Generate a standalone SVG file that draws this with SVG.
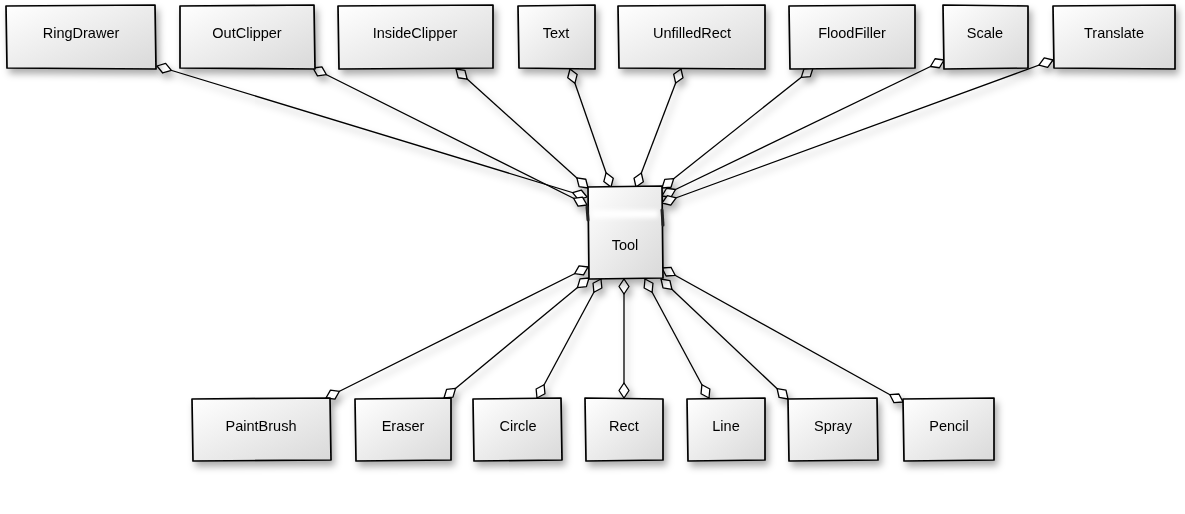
<svg xmlns="http://www.w3.org/2000/svg" width="1185" height="514" viewBox="0 0 1185 514">
<defs>
<linearGradient id="g" x1="0" y1="0" x2="1" y2="1">
<stop offset="0" stop-color="#ffffff"/>
<stop offset="1" stop-color="#d9d9d9"/>
</linearGradient>
<filter id="sh" x="-20%" y="-20%" width="150%" height="150%">
<feDropShadow dx="3" dy="5" stdDeviation="3.5" flood-color="#000" flood-opacity="0.32"/>
</filter>
<filter id="bl" x="-20%" y="-50%" width="140%" height="200%">
<feGaussianBlur stdDeviation="2"/>
</filter>
<marker id="d" markerUnits="userSpaceOnUse" markerWidth="20" markerHeight="14" refX="0" refY="0" viewBox="-17 -7 19 14" orient="auto-start-reverse" overflow="visible">
<path d="M0,0 L-7.5,-5 L-15,0 L-7.5,5 Z" fill="#fff" stroke="#000" stroke-width="1.3" stroke-linejoin="round"/>
</marker>
</defs>
<style>
.box{fill:url(#g);stroke:#000;stroke-width:1.7;stroke-linejoin:round}
.lbl{font-family:"Liberation Sans","DejaVu Sans",sans-serif;font-size:14.5px;fill:#000;text-anchor:middle;dominant-baseline:central}
.c{fill:none;stroke:#000;stroke-width:1.3;marker-start:url(#d);marker-end:url(#d)}
</style>
<rect width="1185" height="514" fill="#fff"/>
<g id="connectors" filter="url(#sh)">
<path class="c" d="M157,66 L587,197"/>
<path class="c" d="M313,68 L587,205"/>
<path class="c" d="M456,69 L588,188"/>
<path class="c" d="M570,69 L611,187"/>
<path class="c" d="M681,69 L636,187"/>
<path class="c" d="M813,68 L662,188"/>
<path class="c" d="M944,60 L662,196"/>
<path class="c" d="M1053,60 L662,203"/>
<path class="c" d="M326,398 L588,267"/>
<path class="c" d="M444,398 L589,278"/>
<path class="c" d="M537,398 L601,279"/>
<path class="c" d="M624,398 L624,279"/>
<path class="c" d="M709,398 L645,279"/>
<path class="c" d="M788,399 L661,279"/>
<path class="c" d="M903,402 L662,268"/>
</g>
<g id="RingDrawer" filter="url(#sh)"><path class="box" d="M6,6 L155,5 L156,69 L7,68 Z"/><text class="lbl" x="81" y="33">RingDrawer</text></g>
<g id="OutClipper" filter="url(#sh)"><path class="box" d="M180,6 L314,5 L315,69 L180,68 Z"/><text class="lbl" x="247" y="33">OutClipper</text></g>
<g id="InsideClipper" filter="url(#sh)"><path class="box" d="M338,6 L493,5 L493,68 L339,69 Z"/><text class="lbl" x="415" y="33">InsideClipper</text></g>
<g id="Text" filter="url(#sh)"><path class="box" d="M518,6 L595,5 L595,69 L519,68 Z"/><text class="lbl" x="556" y="33">Text</text></g>
<g id="UnfilledRect" filter="url(#sh)"><path class="box" d="M618,6 L765,5 L765,69 L619,68 Z"/><text class="lbl" x="692" y="33">UnfilledRect</text></g>
<g id="FloodFiller" filter="url(#sh)"><path class="box" d="M789,6 L915,5 L915,68 L790,69 Z"/><text class="lbl" x="852" y="33">FloodFiller</text></g>
<g id="Scale" filter="url(#sh)"><path class="box" d="M943,5 L1028,6 L1028,68 L944,69 Z"/><text class="lbl" x="985" y="33">Scale</text></g>
<g id="Translate" filter="url(#sh)"><path class="box" d="M1053,6 L1175,5 L1175,69 L1054,68 Z"/><text class="lbl" x="1114" y="33">Translate</text></g>
<g id="Tool" filter="url(#sh)"><path class="box" d="M588,187 L662,186 L663,278 L589,279 Z"/>
<rect x="592" y="210" width="66" height="8" fill="#fff" filter="url(#bl)"/>
<path d="M587,207 L588,220 M662,210 L663,225" stroke="#222" stroke-width="3" stroke-linecap="round"/>
<text class="lbl" x="625" y="245">Tool</text></g>
<g id="PaintBrush" filter="url(#sh)"><path class="box" d="M192,399 L330,398 L331,460 L193,461 Z"/><text class="lbl" x="261" y="426">PaintBrush</text></g>
<g id="Eraser" filter="url(#sh)"><path class="box" d="M355,399 L451,398 L451,460 L356,461 Z"/><text class="lbl" x="403" y="426">Eraser</text></g>
<g id="Circle" filter="url(#sh)"><path class="box" d="M473,399 L561,398 L562,460 L474,461 Z"/><text class="lbl" x="518" y="426">Circle</text></g>
<g id="Rect" filter="url(#sh)"><path class="box" d="M585,398 L663,399 L663,460 L586,461 Z"/><text class="lbl" x="624" y="426">Rect</text></g>
<g id="Line" filter="url(#sh)"><path class="box" d="M687,399 L765,398 L765,460 L688,461 Z"/><text class="lbl" x="726" y="426">Line</text></g>
<g id="Spray" filter="url(#sh)"><path class="box" d="M788,399 L877,398 L878,460 L789,461 Z"/><text class="lbl" x="833" y="426">Spray</text></g>
<g id="Pencil" filter="url(#sh)"><path class="box" d="M903,399 L994,398 L994,460 L904,461 Z"/><text class="lbl" x="949" y="426">Pencil</text></g>
</svg>
